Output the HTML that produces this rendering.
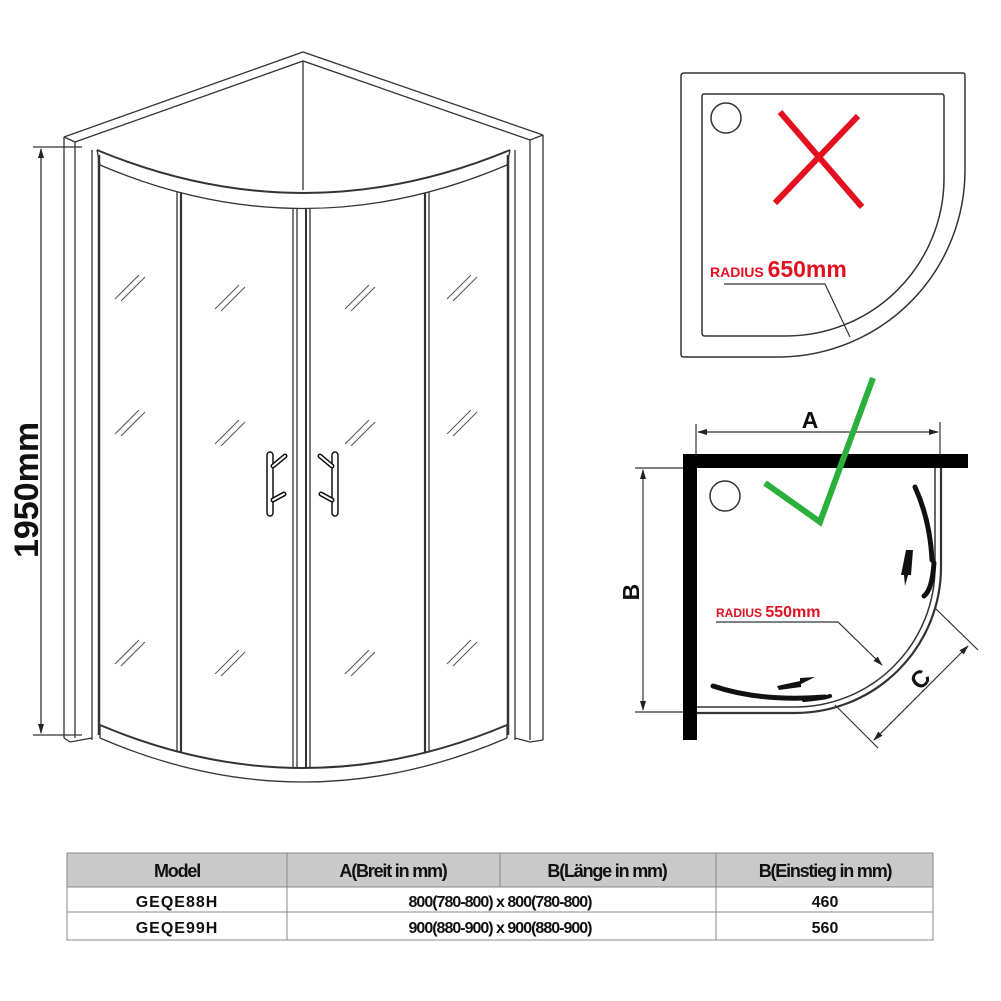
<!DOCTYPE html>
<html><head><meta charset="utf-8"><style>
html,body{margin:0;padding:0;background:#fff;}
svg{display:block;font-family:"Liberation Sans",Arial,sans-serif;}
</style></head><body>
<svg width="1001" height="1001" viewBox="0 0 1001 1001" xmlns="http://www.w3.org/2000/svg">
<defs>
<marker id="ar" markerWidth="10" markerHeight="8" refX="9" refY="4" orient="auto" markerUnits="userSpaceOnUse"><path d="M0,1 L10,4 L0,7 Z" fill="#222"/></marker>
<marker id="sa" markerWidth="10" markerHeight="8" refX="1" refY="4" orient="auto" markerUnits="userSpaceOnUse"><path d="M10,1 L0,4 L10,7 Z" fill="#222"/></marker>
<g id="h" stroke="#555" stroke-width="1" fill="none"><line x1="0" y1="14" x2="24" y2="-10"/><line x1="6" y1="16" x2="30" y2="-8"/></g>
</defs>
<rect width="1001" height="1001" fill="#fff"/>

<!-- LEFT DRAWING -->
<g stroke="#333" stroke-width="1.3" fill="none">
  <line x1="33" y1="147" x2="82" y2="147"/>
  <line x1="33" y1="735" x2="82" y2="735"/>
  <line x1="41" y1="149" x2="41" y2="733" marker-start="url(#sa)" marker-end="url(#ar)"/>
  <polyline points="64,137 303,52 543,135"/>
  <polyline points="75,142 303,61 530,140"/>
  <line x1="64" y1="137" x2="75" y2="142"/>
  <line x1="543" y1="135" x2="530" y2="140"/>
  <line x1="303" y1="61" x2="303" y2="190"/>
  <line x1="64" y1="137" x2="64" y2="738"/>
  <line x1="75" y1="142" x2="75" y2="738"/>
  <line x1="530" y1="140" x2="530" y2="740"/>
  <line x1="543" y1="135" x2="543" y2="740"/>
  <path d="M64,738 L70,742 L92,738"/>
  <path d="M515,738 L530,742 L543,740"/>
  <line x1="92" y1="150" x2="92" y2="740"/>
  <line x1="99" y1="155" x2="99" y2="735" stroke-width="2.5"/>
  <line x1="508" y1="155" x2="508" y2="735" stroke-width="2.5"/>
  <line x1="515" y1="150" x2="515" y2="740"/>
  <path d="M97,150 Q303,236 510,150" stroke-width="2"/>
  <path d="M100,165 Q303,252 507,165"/>
  <line x1="97" y1="150" x2="100" y2="165"/>
  <line x1="510" y1="150" x2="507" y2="165"/>
  <path d="M100,725 Q303,811 507,725" stroke-width="2"/>
  <path d="M100,738 Q303,826 507,738"/>
  <line x1="100" y1="725" x2="100" y2="738"/>
  <line x1="507" y1="725" x2="507" y2="738"/>
  <line x1="177" y1="192" x2="177" y2="752"/>
  <line x1="181" y1="193" x2="181" y2="753" stroke-width="2.2"/>
  <line x1="293" y1="208" x2="293" y2="768"/>
  <line x1="297" y1="208" x2="297" y2="768"/>
  <line x1="306" y1="208" x2="306" y2="768" stroke-width="2"/>
  <line x1="310" y1="208" x2="310" y2="768"/>
  <line x1="425" y1="193" x2="425" y2="753" stroke-width="2.2"/>
  <line x1="429" y1="192" x2="429" y2="752"/>
</g>
<use href="#h" x="115" y="285"/><use href="#h" x="115" y="420"/><use href="#h" x="115" y="650"/>
<use href="#h" x="215" y="295"/><use href="#h" x="215" y="430"/><use href="#h" x="215" y="660"/>
<use href="#h" x="345" y="295"/><use href="#h" x="345" y="430"/><use href="#h" x="345" y="660"/>
<use href="#h" x="447" y="285"/><use href="#h" x="447" y="420"/><use href="#h" x="447" y="650"/>
<g stroke="#111" stroke-width="1.5" fill="#fff">
  <rect x="267" y="452" width="6" height="64" rx="3"/>
  <path d="M273,466 L285,456" stroke-width="5" stroke-linecap="round"/>
  <path d="M273,500 L284,494" stroke-width="5" stroke-linecap="round"/>
  <rect x="332" y="452" width="6" height="64" rx="3"/>
  <path d="M332,466 L320,456" stroke-width="5" stroke-linecap="round"/>
  <path d="M332,500 L321,494" stroke-width="5" stroke-linecap="round"/>
</g>
<g stroke="#fff" stroke-width="2" stroke-linecap="round">
  <path d="M273,466 L285,456"/><path d="M273,500 L284,494"/>
  <path d="M332,466 L320,456"/><path d="M332,500 L321,494"/>
</g>
<text transform="translate(38,490) rotate(-90)" text-anchor="middle" font-size="34" font-weight="bold" fill="#111">1950mm</text>

<!-- TOP RIGHT TRAY -->
<g stroke="#333" stroke-width="1.5" fill="none">
  <path d="M684,73 H963 Q965,73 965,76 V170 A187,187 0 0 1 782,357 H684 Q681,357 681,354 V76 Q681,73 684,73 Z"/>
  <path d="M704,94 H942 Q944,94 944,97 V180 A158,158 0 0 1 786,336 H705 Q702,336 702,333 V97 Q702,94 704,94 Z"/>
  <circle cx="726" cy="118" r="15"/>
  <polyline points="724,284 825,284 850,337" stroke-width="1.2"/>
</g>
<g stroke="#e3101f" stroke-width="6">
  <line x1="780" y1="112" x2="862" y2="207"/>
  <line x1="775" y1="203" x2="858" y2="116"/>
</g>
<text x="710" y="277" font-size="14" font-weight="bold" fill="#e3101f">RADIUS <tspan font-size="23">650mm</tspan></text>

<!-- BOTTOM RIGHT PLAN -->
<g stroke="#333" stroke-width="1.2" fill="none">
  <line x1="696" y1="424" x2="696" y2="455"/>
  <line x1="940" y1="422" x2="940" y2="455"/>
  <line x1="698" y1="432" x2="938" y2="432" marker-start="url(#sa)" marker-end="url(#ar)"/>
  <line x1="635" y1="468" x2="683" y2="468"/>
  <line x1="635" y1="712" x2="683" y2="712"/>
  <line x1="643" y1="470" x2="643" y2="710" marker-start="url(#sa)" marker-end="url(#ar)"/>
  <path d="M935,468 V567 A140,140 0 0 1 795,707 H697" stroke-width="1.5"/>
  <path d="M941,468 V567 A146,146 0 0 1 795,713 H697" stroke-width="2.2"/>
  <circle cx="725" cy="496" r="15" stroke-width="1.5"/>
  <line x1="935" y1="608" x2="978" y2="650"/>
  <line x1="835" y1="705" x2="878" y2="748"/>
  <line x1="968" y1="646" x2="874" y2="740" marker-start="url(#sa)" marker-end="url(#ar)"/>
  <polyline points="716,622 838,622 882,665" marker-end="url(#ar)"/>
</g>
<g stroke="#111" fill="none" stroke-linecap="round">
  <path d="M915,487 Q930,520 932,560" stroke-width="5"/>
  <path d="M934,563 Q932,590 924,596" stroke-width="5"/>
  <path d="M713,686 Q760,702 825,697" stroke-width="5"/>
  <path d="M804,700 Q825,698 830,696" stroke-width="4"/>
</g>
<g fill="#111">
  <path d="M913,550 L911,575 L908,575 L905,586 L904,575 L901,575 L906,550 Z"/>
  <path d="M777,686 L800,681 L800,678 L815,677 L801,684 L801,687 L779,690 Z"/>
</g>
<rect x="683" y="454" width="285" height="14" fill="#000"/>
<rect x="683" y="454" width="14" height="286" fill="#000"/>
<polyline points="765,483 820,522 873,378" stroke="#2bb03b" stroke-width="6" fill="none"/>
<text x="810" y="428" text-anchor="middle" font-size="23" font-weight="bold" fill="#111">A</text>
<text transform="translate(639,592) rotate(-90)" text-anchor="middle" font-size="23" font-weight="bold" fill="#111">B</text>
<text transform="translate(926,685) rotate(-45)" text-anchor="middle" font-size="24" font-weight="bold" fill="#111">C</text>
<text x="716" y="617" font-size="12" font-weight="bold" fill="#e3101f">RADIUS <tspan font-size="16">550mm</tspan></text>

<!-- TABLE -->
<g font-size="16" fill="#111" text-anchor="middle">
  <rect x="67" y="853" width="866" height="34" fill="#c9c9c9" stroke="#888"/>
  <rect x="67" y="887" width="866" height="53" fill="#fff" stroke="#888"/>
  <line x1="67" y1="912" x2="933" y2="912" stroke="#888"/>
  <line x1="287" y1="853" x2="287" y2="940" stroke="#888"/>
  <line x1="500" y1="853" x2="500" y2="887" stroke="#888"/>
  <line x1="716" y1="853" x2="716" y2="940" stroke="#888"/>
  <g font-weight="bold" font-size="18" letter-spacing="-1.2">
  <text x="177" y="877">Model</text>
  <text x="393" y="877">A(Breit in mm)</text>
  <text x="607" y="877">B(Länge in mm)</text>
  <text x="825" y="877">B(Einstieg in mm)</text>
  </g>
  <text x="177" y="907" font-weight="bold" letter-spacing="1">GEQE88H</text>
  <text x="500" y="907" font-weight="bold" letter-spacing="-1">800(780-800)  x  800(780-800)</text>
  <text x="825" y="907" font-weight="bold">460</text>
  <text x="177" y="933" font-weight="bold" letter-spacing="1">GEQE99H</text>
  <text x="500" y="933" font-weight="bold" letter-spacing="-1">900(880-900)  x  900(880-900)</text>
  <text x="825" y="933" font-weight="bold">560</text>
</g>
</svg>
</body></html>
